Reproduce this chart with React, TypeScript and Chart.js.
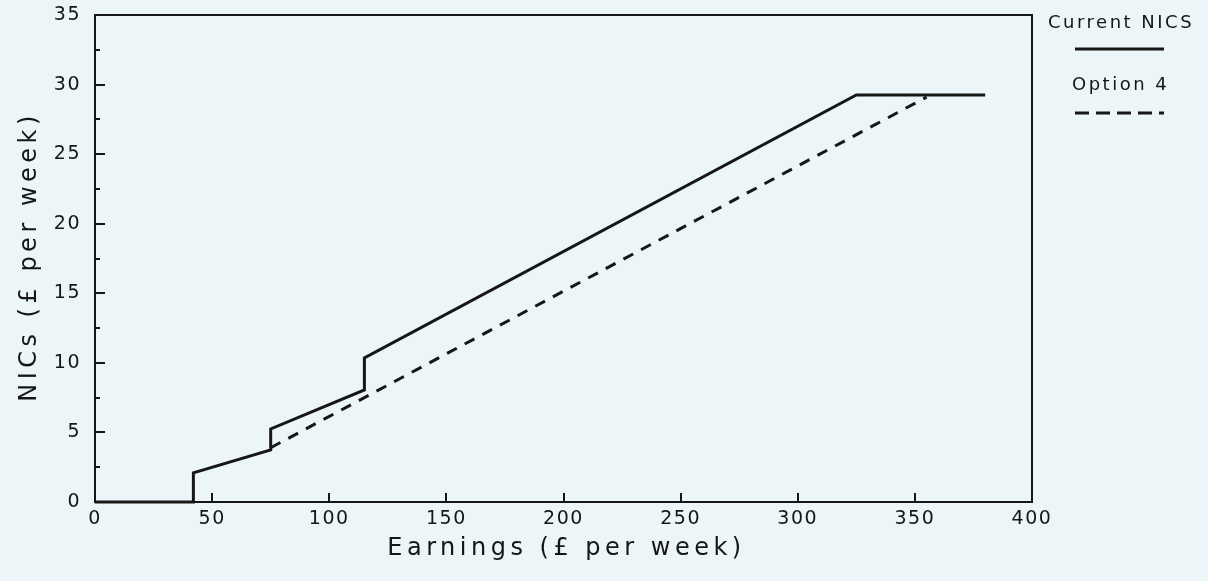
import React, { useEffect, useRef } from "react";
import { Chart, registerables } from "chart.js";

Chart.register(...registerables);

// Weekly employee NICs under the current schedule and under Option 4
const currentEarnings = [0, 42, 42, 75, 75, 115, 115, 325, 380];
const currentNics = [0, 0, 2.1, 3.75, 5.25, 8.05, 10.35, 29.25, 29.25];
const optionEarnings = [75, 115, 355];
const optionNics = [3.9, 7.5, 29.1];

const seriesNames = ["Current NICS", "Option 4"];
const xTitle = "Earnings (£ per week)";
const yTitle = "NICs (£ per week)";

const xTicks = [0, 50, 100, 150, 200, 250, 300, 350, 400];
const yTicks = [0, 5, 10, 15, 20, 25, 30, 35];
const yMinorTicks = [2.5, 7.5, 12.5, 17.5, 22.5, 27.5, 32.5];

const INK = "#161616";
const PAPER = "#ecf5f7";
const FONT = '"DejaVu Sans", sans-serif';
const SOLID_DASH: number[] = [];
const PLOT_DASH = [11, 9];
const LEGEND_DASH = [14, 7];

const framePlugin = {
  id: "frameAndTicks",
  beforeDraw(chart: any) {
    // spacing used by the scale tick labels
    chart.ctx.letterSpacing = "1.5px";
  },
  beforeDatasetsDraw(chart: any) {
    const { ctx, chartArea, scales } = chart;
    const { left, right, top, bottom } = chartArea;
    const x = scales.x;
    const y = scales.y;
    ctx.save();
    ctx.strokeStyle = INK;
    ctx.lineWidth = 2;
    ctx.lineCap = "butt";
    ctx.strokeRect(left, top, right - left, bottom - top);
    ctx.beginPath();
    yTicks.forEach((v) => {
      const py = Math.round(y.getPixelForValue(v));
      ctx.moveTo(left, py);
      ctx.lineTo(left + 10, py);
    });
    yMinorTicks.forEach((v) => {
      const py = Math.round(y.getPixelForValue(v));
      ctx.moveTo(left, py);
      ctx.lineTo(left + 5, py);
    });
    xTicks.forEach((v) => {
      const px = Math.round(x.getPixelForValue(v));
      ctx.moveTo(px, bottom);
      ctx.lineTo(px, bottom - 9);
    });
    ctx.stroke();
    ctx.restore();
  },
  afterDraw(chart: any) {
    const { ctx, chartArea } = chart;
    const { left, right, top, bottom } = chartArea;
    ctx.save();
    ctx.fillStyle = INK;

    // axis titles
    ctx.font = `24px ${FONT}`;
    ctx.letterSpacing = "4.5px";
    ctx.textAlign = "center";
    ctx.textBaseline = "alphabetic";
    ctx.fillText(xTitle, (left + right) / 2 + 3, bottom + 53);

    ctx.save();
    ctx.translate(left - 59, (top + bottom) / 2);
    ctx.rotate(-Math.PI / 2);
    ctx.fillText(yTitle, 2, 0);
    ctx.restore();

    // legend to the right of the plot
    ctx.font = `18px ${FONT}`;
    ctx.letterSpacing = "2.5px";
    ctx.textAlign = "left";
    ctx.fillText(seriesNames[0], right + 16, top + 13);
    ctx.fillText(seriesNames[1], right + 40, top + 75);

    ctx.strokeStyle = INK;
    ctx.lineWidth = 3;
    ctx.setLineDash(SOLID_DASH);
    ctx.beginPath();
    ctx.moveTo(right + 43, top + 34);
    ctx.lineTo(right + 132, top + 34);
    ctx.stroke();

    ctx.setLineDash(LEGEND_DASH);
    ctx.beginPath();
    ctx.moveTo(right + 43, top + 98);
    ctx.lineTo(right + 132, top + 98);
    ctx.stroke();
    ctx.restore();
  },
};

export default function App() {
  const canvasRef = useRef<HTMLCanvasElement | null>(null);

  useEffect(() => {
    const canvas = canvasRef.current;
    if (!canvas) return;

    const currentPoints = currentEarnings.map((e, i) => ({ x: e, y: currentNics[i] }));
    const optionPoints = optionEarnings.map((e, i) => ({ x: e, y: optionNics[i] }));

    const chart = new Chart(canvas, {
      type: "line",
      data: {
        datasets: [
          {
            label: seriesNames[1],
            data: optionPoints,
            borderColor: INK,
            borderWidth: 3,
            borderDash: PLOT_DASH,
            pointRadius: 0,
            tension: 0,
            clip: false,
            order: 2,
          },
          {
            label: seriesNames[0],
            data: currentPoints,
            borderColor: INK,
            borderWidth: 3,
            borderJoinStyle: "miter",
            pointRadius: 0,
            tension: 0,
            clip: false,
            order: 1,
          },
        ],
      },
      options: {
        animation: false,
        responsive: true,
        maintainAspectRatio: false,
        layout: { padding: { top: 15, right: 176, left: 0, bottom: 0 } },
        plugins: {
          legend: { display: false },
          tooltip: { enabled: false },
          title: { display: false },
        },
        scales: {
          x: {
            type: "linear",
            min: 0,
            max: 400,
            afterBuildTicks: (scale: any) => {
              scale.ticks = xTicks.map((v) => ({ value: v }));
            },
            afterFit: (scale: any) => {
              scale.height = 79;
              scale.paddingLeft = 0;
              scale.paddingRight = 0;
            },
            grid: { display: false, drawTicks: false },
            border: { display: false },
            ticks: {
              autoSkip: false,
              maxRotation: 0,
              padding: 6,
              color: INK,
              font: { family: FONT, size: 19 },
            },
          },
          y: {
            type: "linear",
            min: 0,
            max: 35,
            afterBuildTicks: (scale: any) => {
              scale.ticks = yTicks.map((v) => ({ value: v }));
            },
            afterFit: (scale: any) => {
              scale.width = 95;
              scale.paddingTop = 0;
              scale.paddingBottom = 0;
            },
            grid: { display: false, drawTicks: false },
            border: { display: false },
            ticks: {
              autoSkip: false,
              padding: 14,
              color: INK,
              font: { family: FONT, size: 19 },
            },
          },
        },
      },
      plugins: [framePlugin],
    } as any);

    return () => chart.destroy();
  }, []);

  return (
    <div
      style={{
        position: "absolute",
        left: 0,
        top: 0,
        width: 1208,
        height: 581,
        background: PAPER,
      }}
    >
      <canvas ref={canvasRef} />
    </div>
  );
}
